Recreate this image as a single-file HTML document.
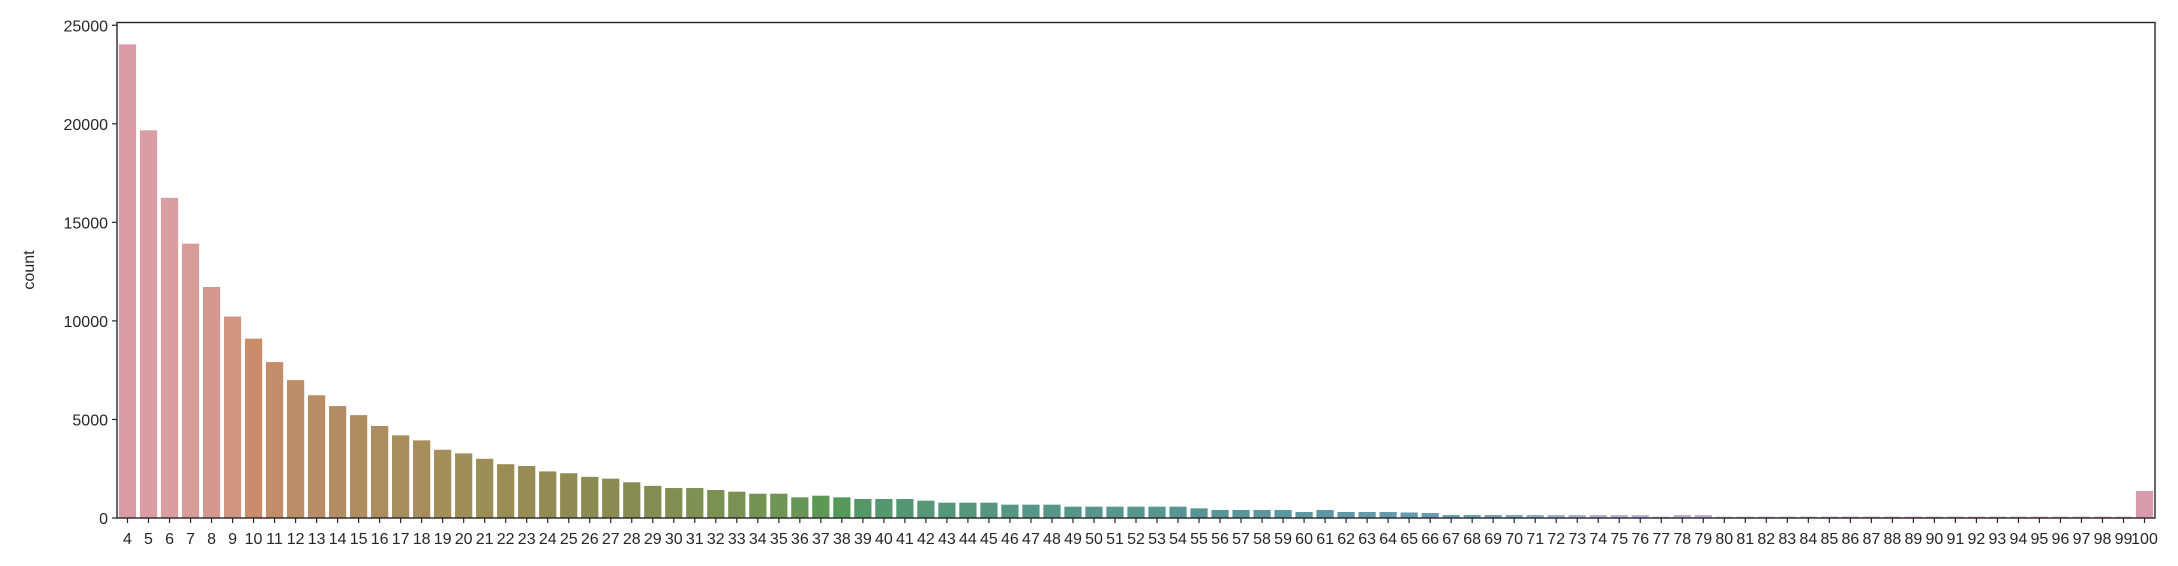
<!DOCTYPE html>
<html><head><meta charset="utf-8"><style>
html,body{margin:0;padding:0;background:#fff;}
svg{display:block;}
text{font-family:"Liberation Sans","DejaVu Sans",sans-serif;fill:#262626;}
</style></head><body>
<svg id="chart" width="2178" height="566" xmlns="http://www.w3.org/2000/svg">
<g id="bars"></g>
<g id="axes"></g>
</svg>
<script>
const categories = [];
for (let c = 4; c <= 100; c++) categories.push(String(c));
const counts = [
24030,19670,16245,13920,11720,10220,9100,7910,6995,6227,
5678,5220,4670,4194,3938,3462,3278,3004,2729,2637,
2363,2271,2088,1996,1813,1630,1520,1521,1420,1335,
1234,1234,1048,1132,1048,963,963,963,879,777,
777,777,676,676,676,575,575,575,575,575,
575,490,406,406,406,406,304,406,304,304,
304,280,254,152,152,152,152,152,152,152,
152,152,152,68,152,152,68,68,68,68,
68,68,68,68,68,68,68,68,68,68,
68,68,68,68,68,68,1369];
const yTicks = [0,5000,10000,15000,20000,25000];
const yMax = 25140;

const L = 117, R = 2155, T = 22.5, B = 518;
const NS = "http://www.w3.org/2000/svg";
const step = (R - L) / categories.length;
const xPos = i => L + step * (i + 0.5);
const yPos = v => B - (v / yMax) * (B - T);

const M = [[3.240969941904521,-1.537383177570093,-0.498610760293],[-0.96924363628087,1.87596750150772,0.041555057407175],[0.055630079696993,-0.20397695888897,1.056971514242878]];
const refU = 0.19783000664283, refV = 0.46831999493879, kappa = 903.2962962, eps = 0.0088564516;
function bounds(Lv){const s1=Math.pow(Lv+16,3)/1560896;const s2=s1>eps?s1:Lv/kappa;const out=[];
 for(const m of M){const [m1,m2,m3]=m;for(const t of [0,1]){const top1=(284517*m1-94839*m3)*s2;const top2=(838422*m3+769860*m2+731718*m1)*Lv*s2-769860*t*Lv;const bot=(632260*m3-126452*m2)*s2+126452*t;out.push([top1/bot,top2/bot]);}}return out;}
function maxC(Lv,H){const hr=H/360*Math.PI*2;let mn=Infinity;for(const [sl,ic] of bounds(Lv)){const len=ic/(Math.sin(hr)-sl*Math.cos(hr));if(len>=0)mn=Math.min(mn,len);}return mn;}
function husl(H,S,Lv){const C=maxC(Lv,H)/100*S;const hr=H/360*Math.PI*2;const U=C*Math.cos(hr),V=C*Math.sin(hr);
 const vu=U/(13*Lv)+refU, vv=V/(13*Lv)+refV;const Y=Lv<=8?Lv/kappa:Math.pow((Lv+16)/116,3);
 const X=0-(9*Y*vu)/((vu-4)*vv-vu*vv);const Z=(9*Y-15*vv*Y-vv*X)/(3*vv);
 return M.map(r=>{let c=r[0]*X+r[1]*Y+r[2]*Z;c=c<=0.0031308?12.92*c:1.055*Math.pow(c,1/2.4)-0.055;return Math.min(1,Math.max(0,c));});}
function rgb2hls(r,g,b){const mx=Math.max(r,g,b),mn=Math.min(r,g,b);const l=(mx+mn)/2;if(mx===mn)return[0,l,0];
 const d=mx-mn;const s=l<=0.5?d/(mx+mn):d/(2-mx-mn);const rc=(mx-r)/d,gc=(mx-g)/d,bc=(mx-b)/d;let h;
 if(r===mx)h=bc-gc;else if(g===mx)h=2+rc-bc;else h=4+gc-rc;h=(h/6)%1;if(h<0)h+=1;return[h,l,s];}
function v(m1,m2,h){h=((h%1)+1)%1;if(h<1/6)return m1+(m2-m1)*h*6;if(h<0.5)return m2;if(h<2/3)return m1+(m2-m1)*(2/3-h)*6;return m1;}
function hls2rgb(h,l,s){if(s===0)return[l,l,l];const m2=l<=0.5?l*(1+s):l+s-l*s;const m1=2*l-m2;return[v(m1,m2,h+1/3),v(m1,m2,h),v(m1,m2,h-1/3)];}
function color(i,n){let h=(i/n+0.01)%1;h*=359;const rgb=husl(h,0.9*99,0.65*99);const [hh,ll,ss]=rgb2hls(...rgb);
 const o=hls2rgb(hh,Math.min(1,ll*1.04),ss*0.5);return 'rgb('+o.map(c=>Math.round(c*255)).join(',')+')';}

const barsG = document.getElementById('bars');
const axesG = document.getElementById('axes');
const bw = step * 0.82;
counts.forEach((c, i) => {
  const r = document.createElementNS(NS, 'rect');
  r.setAttribute('x', xPos(i) - bw / 2);
  r.setAttribute('y', yPos(c));
  r.setAttribute('width', bw);
  r.setAttribute('height', B - yPos(c));
  r.setAttribute('fill', color(i, categories.length));
  
  
  barsG.appendChild(r);
});

function el(tag, attrs, txt){const e=document.createElementNS(NS,tag);for(const k in attrs)e.setAttribute(k,attrs[k]);if(txt!==undefined)e.textContent=txt;return e;}

const frame = el('rect', {x:L, y:T, width:R-L, height:B-T, fill:'none', stroke:'#262626', 'stroke-width':1.4});


axesG.appendChild(frame);

yTicks.forEach(t => {
  const y = yPos(t);
  const tk = el('line', {x1:L-5, x2:L, y1:y, y2:y, stroke:'#262626', 'stroke-width':1.2});
  
  
  axesG.appendChild(tk);
  const lb = el('text', {x:L-9, y:y+6, 'text-anchor':'end', 'font-size':16}, String(t));
  
  
  axesG.appendChild(lb);
});

categories.forEach((c, i) => {
  const x = xPos(i);
  const tk = el('line', {x1:x, x2:x, y1:B, y2:B+5, stroke:'#262626', 'stroke-width':1.2});
  
  
  axesG.appendChild(tk);
  const lb = el('text', {x:x, y:B+26, 'text-anchor':'middle', 'font-size':16}, c);
  
  
  axesG.appendChild(lb);
});

const yl = el('text', {x:0, y:0, 'text-anchor':'middle', 'font-size':16, transform:'translate(34,270) rotate(-90)'}, 'count');


axesG.appendChild(yl);
</script>
</body></html>
